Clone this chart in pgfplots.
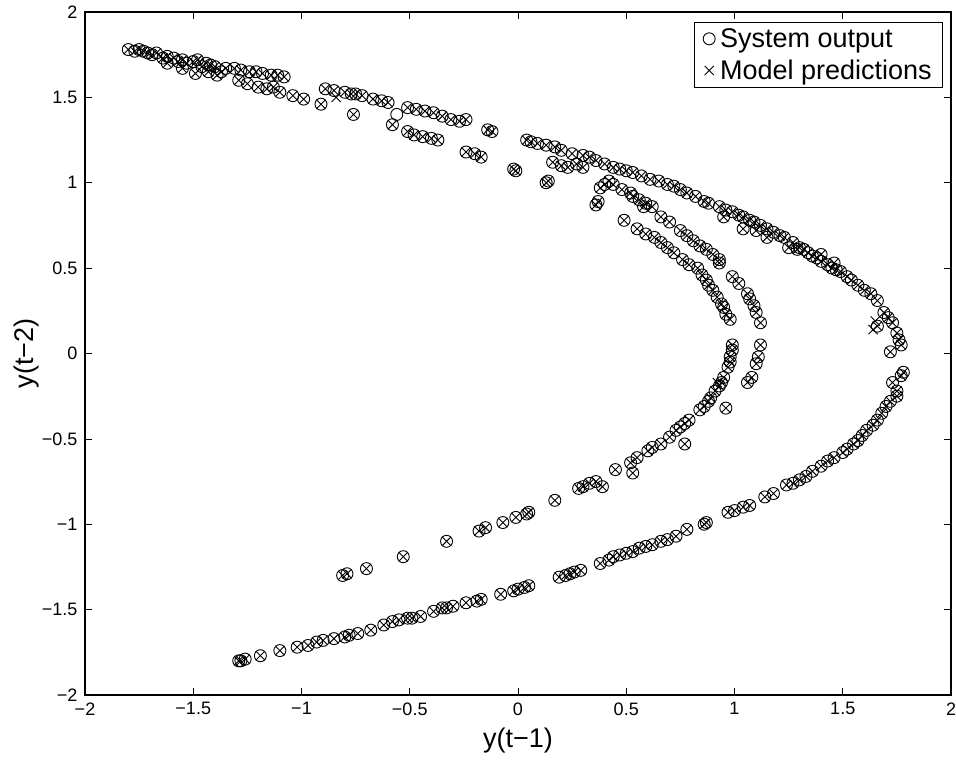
\documentclass[border=0pt]{standalone}
\usepackage{fontspec}
\setmainfont{Liberation Sans}
\usepackage{pgfplots}
\usepackage{pgfplotstable}
\pgfplotsset{compat=1.18}

\pgfplotstableread{
x y
-1.80 1.78
-1.77 1.77
-1.75 1.78
-1.73 1.77
-1.71 1.76
-1.69 1.75
-1.67 1.76
-1.64 1.73
-1.62 1.74
-1.62 1.70
-1.59 1.73
-1.57 1.71
-1.55 1.72
-1.55 1.67
-1.53 1.70
-1.50 1.71
-1.49 1.64
-1.48 1.72
-1.46 1.68
-1.44 1.70
-1.43 1.65
-1.42 1.69
-1.40 1.68
-1.39 1.63
-1.37 1.65
-1.35 1.67
-1.31 1.67
-1.29 1.60
-1.28 1.66
-1.25 1.58
-1.24 1.65
-1.21 1.65
-1.20 1.56
-1.18 1.64
-1.16 1.55
-1.14 1.63
-1.13 1.56
-1.11 1.63
-1.10 1.53
-1.08 1.62
-1.04 1.51
-0.99 1.49
-0.91 1.46
-0.89 1.55
-0.85 1.54
-0.80 1.53
-0.77 1.52
-0.76 1.40
-0.75 1.52
-0.72 1.51
-0.67 1.49
-0.63 1.48
-0.60 1.47
-0.58 1.34
-0.51 1.44
-0.51 1.30
-0.48 1.28
-0.47 1.43
-0.44 1.27
-0.43 1.42
-0.40 1.26
-0.39 1.41
-0.37 1.25
-0.35 1.39
-0.31 1.37
-0.27 1.36
-0.24 1.37
-0.24 1.18
-0.20 1.17
-0.17 1.15
-0.14 1.31
-0.12 1.30
-0.02 1.08
-0.01 1.07
0.04 1.25
0.06 1.24
0.09 1.23
0.13 1.22
0.13 1.00
0.14 1.01
0.16 1.12
0.17 1.21
0.20 1.19
0.20 1.10
0.23 1.09
0.25 1.17
0.27 1.11
0.30 1.16
0.30 1.09
0.33 1.15
0.36 1.13
0.36 0.87
0.37 0.89
0.38 0.97
0.40 1.11
0.40 0.99
0.42 1.01
0.44 1.09
0.44 0.99
0.47 1.08
0.48 0.96
0.49 0.78
0.50 1.07
0.52 0.94
0.53 1.06
0.53 0.92
0.55 0.73
0.56 0.90
0.57 1.04
0.58 0.86
0.59 0.88
0.59 0.70
0.61 1.02
0.62 0.86
0.63 0.68
0.65 1.01
0.66 0.80
0.66 0.65
0.69 0.99
0.69 0.62
0.70 0.77
0.72 0.98
0.72 0.59
0.75 0.96
0.75 0.72
0.76 0.55
0.78 0.94
0.78 0.69
0.79 0.52
0.81 0.66
0.82 0.92
0.83 0.50
0.84 0.63
0.85 0.46
0.86 0.89
0.87 0.61
0.87 0.43
0.88 0.88
0.88 0.40
0.90 0.58
0.90 0.37
0.92 0.33
0.93 0.86
0.93 0.55
0.93 0.53
0.94 0.29
0.95 0.80
0.95 0.27
0.96 0.84
0.96 0.23
0.98 0.20
0.99 0.83
0.99 0.45
1.02 0.81
1.02 0.41
1.04 0.80
1.04 0.73
1.06 0.35
1.07 0.78
1.07 0.32
1.09 0.77
1.09 0.28
1.10 0.72
1.10 0.24
1.12 0.75
1.12 0.18
1.15 0.73
1.15 0.68
1.18 0.71
1.21 0.69
1.23 0.68
1.25 0.62
1.27 0.65
1.29 0.61
1.30 0.62
1.32 0.61
1.34 0.59
1.36 0.57
1.38 0.56
1.40 0.54
1.40 0.58
1.43 0.52
1.45 0.50
1.46 0.53
1.47 0.49
1.49 0.48
1.52 0.45
1.54 0.43
1.57 0.40
1.60 0.37
1.63 0.35
1.66 0.31
1.66 0.16
1.69 0.24
1.71 0.21
1.73 0.18
1.75 0.12
1.76 0.08
1.77 0.05
1.72 0.01
0.99 0.05
0.99 0.02
1.12 0.05
1.11 -0.02
1.10 -0.06
0.98 -0.02
0.98 -0.05
0.97 -0.08
1.08 -0.14
1.06 -0.17
0.95 -0.14
0.94 -0.17
0.93 -0.19
0.91 -0.22
0.89 -0.26
0.88 -0.28
0.96 -0.32
0.86 -0.31
0.84 -0.33
0.79 -0.39
0.77 -0.41
0.75 -0.43
0.73 -0.45
0.70 -0.49
0.77 -0.53
0.66 -0.53
0.62 -0.55
0.60 -0.57
0.55 -0.61
0.52 -0.64
0.53 -0.70
0.45 -0.68
0.39 -0.78
0.36 -0.75
0.33 -0.76
0.30 -0.78
0.28 -0.79
0.17 -0.86
0.05 -0.93
0.04 -0.94
-0.01 -0.96
-0.07 -0.99
-0.15 -1.02
-0.18 -1.04
-0.33 -1.10
-0.53 -1.19
-0.70 -1.26
-0.79 -1.29
-0.81 -1.30
1.78 -0.11
1.77 -0.13
1.73 -0.17
1.75 -0.22
1.75 -0.25
1.72 -0.28
1.70 -0.31
1.68 -0.35
1.66 -0.39
1.64 -0.42
1.61 -0.45
1.59 -0.48
1.57 -0.51
1.55 -0.53
1.52 -0.56
1.50 -0.58
1.46 -0.61
1.43 -0.63
1.40 -0.66
1.36 -0.69
1.33 -0.72
1.30 -0.74
1.27 -0.76
1.24 -0.77
1.18 -0.82
1.14 -0.84
1.07 -0.89
1.04 -0.90
1.00 -0.92
0.97 -0.93
0.87 -0.99
0.86 -1.00
0.78 -1.03
0.73 -1.07
0.69 -1.09
0.66 -1.10
0.62 -1.12
0.59 -1.13
0.56 -1.14
0.53 -1.16
0.50 -1.17
0.47 -1.18
0.44 -1.19
0.42 -1.21
0.38 -1.23
0.29 -1.27
0.26 -1.28
0.24 -1.29
0.22 -1.30
0.19 -1.31
0.05 -1.36
0.03 -1.37
0.00 -1.38
-0.02 -1.39
-0.08 -1.41
-0.17 -1.44
-0.19 -1.45
-0.24 -1.46
-0.30 -1.48
-0.33 -1.49
-0.35 -1.49
-0.39 -1.51
-0.45 -1.54
-0.49 -1.55
-0.51 -1.55
-0.55 -1.56
-0.58 -1.57
-0.62 -1.59
-0.68 -1.62
-0.74 -1.64
-0.78 -1.65
-0.80 -1.66
-0.85 -1.67
-0.90 -1.68
-0.93 -1.69
-0.97 -1.71
-1.02 -1.72
-1.10 -1.74
-1.19 -1.77
-1.26 -1.79
-1.28 -1.80
-1.29 -1.80
}\sysdata

\pgfplotstableread{
x y
-0.56 1.40
}\sysonly

\pgfplotstableread{
x y
-0.84 1.50
1.64 0.14
1.65 0.19
0.92 -0.17
}\predonly

\begin{document}
\begin{tikzpicture}
\begin{axis}[
  scale only axis,
  width=866pt, height=683pt,
  xmin=-2, xmax=2, ymin=-2, ymax=2,
  xtick={-2,-1.5,-1,-0.5,0,0.5,1,1.5,2},
  ytick={-2,-1.5,-1,-0.5,0,0.5,1,1.5,2},
  xticklabels={−2,−1.5,−1,−0.5,0,0.5,1,1.5,2},
  yticklabels={−2,−1.5,−1,−0.5,0,0.5,1,1.5,2},
  tick label style={font=\fontsize{18}{21}\selectfont},
  xticklabel style={yshift=-4pt},
  yticklabel style={xshift=-4pt},
  tick align=inside,
  major tick length=7pt,
  tick style={black, line width=0.6pt},
  axis line style={line width=1.2pt},
  xlabel={y(t−1)},
  ylabel={y(t−2)},
  label style={font=\fontsize{27}{32}\selectfont},
  xlabel style={yshift=-6pt},
  ylabel style={yshift=-4pt},
  legend style={at={(0.991,0.985)}, anchor=north east,
    font=\fontsize{27}{31}\selectfont, draw=black, line width=0.8pt,
    inner xsep=9pt, inner ysep=4pt, row sep=7pt, column sep=3pt},
  legend cell align=left,
]
\addplot[only marks, mark=o, mark size=6pt, mark options={line width=0.9pt, black}] table {\sysdata};
\addlegendentry{System output}
\addplot[only marks, mark=x, mark size=6.5pt, mark options={line width=0.9pt, black}] table {\sysdata};
\addlegendentry{Model predictions}
\addplot[only marks, mark=o, mark size=6pt, mark options={line width=0.9pt, black}, forget plot] table {\sysonly};
\addplot[only marks, mark=x, mark size=6.5pt, mark options={line width=0.9pt, black}, forget plot] table {\predonly};
\end{axis}
\pgfresetboundingbox
\path[use as bounding box] (-85pt,-65pt) rectangle (871pt,695pt);
\end{tikzpicture}
\end{document}
